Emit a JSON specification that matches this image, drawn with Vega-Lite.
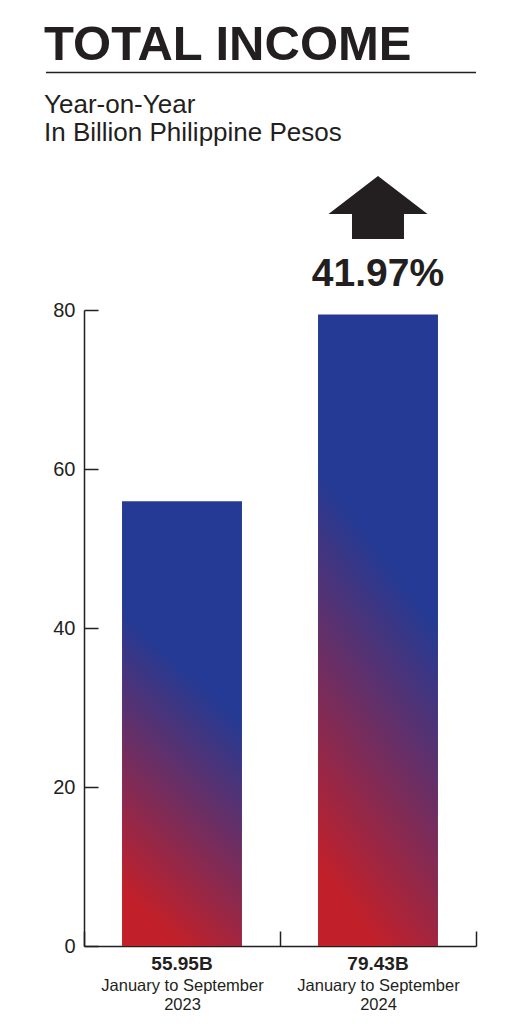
{
  "$schema": "https://vega.github.io/schema/vega-lite/v6.json",
  "background": "white",
  "padding": {"left": 44, "top": 20, "right": 40, "bottom": 10},
  "title": {"text": "TOTAL INCOME", "anchor": "start", "frame": "bounds", "font": "Liberation Sans", "fontSize": 49, "fontWeight": "bold", "color": "#231f20", "offset": 2},
  "config": {"view": {"stroke": null}, "font": "Liberation Sans"},
  "spacing": 18,
  "vconcat": [
    {
      "width": 392,
      "height": 1,
      "data": {"values": [{"start": 0, "end": 1}]},
      "mark": {"type": "rule", "color": "#231f20", "strokeWidth": 1.5},
      "encoding": {
        "x": {"field": "start", "type": "quantitative", "scale": {"domain": [0, 1], "range": [-38, 392], "nice": false}, "axis": null},
        "x2": {"field": "end"}
      }
    },
    {
      "width": 392,
      "height": 636,
      "title": {"text": ["Year-on-Year", "In Billion Philippine Pesos"], "anchor": "start", "frame": "group", "dx": -40, "font": "Liberation Sans", "fontSize": 26, "fontWeight": "normal", "lineHeight": 28, "color": "#231f20", "offset": 30},
      "data": {"values": [
        {"period": "January to September 2023", "income": 55.95, "label": "55.95B", "change": null},
        {"period": "January to September 2024", "income": 79.43, "label": "79.43B", "change": "41.97%"}
      ]},
      "encoding": {
        "x": {
          "field": "period", "type": "nominal", "sort": null,
          "scale": {"paddingInner": 0, "paddingOuter": 0},
          "axis": {"title": null, "tickBand": "extent", "tickSize": -15, "tickWidth": 1.5, "tickColor": "#231f20", "domainColor": "#231f20", "domainWidth": 1.5, "labelPadding": 46, "labelAngle": 0, "labelFont": "Liberation Sans", "labelFontSize": 16.5, "labelLineHeight": 19, "labelColor": "#231f20", "labelExpr": "[substring(datum.label, 0, 20), substring(datum.label, 21)]"}
        },
        "y": {
          "field": "income", "type": "quantitative",
          "scale": {"domain": [0, 80], "nice": false},
          "axis": {"title": null, "grid": false, "values": [0, 20, 40, 60, 80], "tickSize": -14, "tickWidth": 1.5, "tickColor": "#231f20", "domainColor": "#231f20", "domainWidth": 1.5, "labelPadding": 23, "labelFont": "Liberation Sans", "labelFontSize": 20, "labelColor": "#231f20"}
        }
      },
      "layer": [
        {
          "mark": {
            "type": "bar",
            "width": {"band": 0.612},
            "color": {"gradient": "linear", "x1": 0.3, "y1": 1, "x2": 0.55, "y2": 0,
              "stops": [{"offset": 0.05, "color": "#c1202a"}, {"offset": 0.64, "color": "#243a94"}]}
          }
        },
        {
          "mark": {"type": "text", "font": "Liberation Sans", "fontSize": 19, "fontWeight": "bold", "color": "#231f20", "baseline": "alphabetic", "dy": 24},
          "encoding": {"y": {"datum": 0}, "text": {"field": "label"}}
        },
        {
          "transform": [{"filter": "datum.change != null"}],
          "mark": {"type": "point", "shape": "M0,-0.636L1,0.131L0.525,0.131L0.525,0.636L-0.525,0.636L-0.525,0.131L-1,0.131Z", "size": 9801, "filled": true, "opacity": 1, "color": "#231f20", "strokeWidth": 0, "yOffset": -107}
        },
        {
          "transform": [{"filter": "datum.change != null"}],
          "mark": {"type": "text", "font": "Liberation Sans", "fontSize": 39, "fontWeight": "bold", "color": "#231f20", "baseline": "alphabetic", "dy": -28.5},
          "encoding": {"text": {"field": "change"}}
        }
      ]
    }
  ]
}
